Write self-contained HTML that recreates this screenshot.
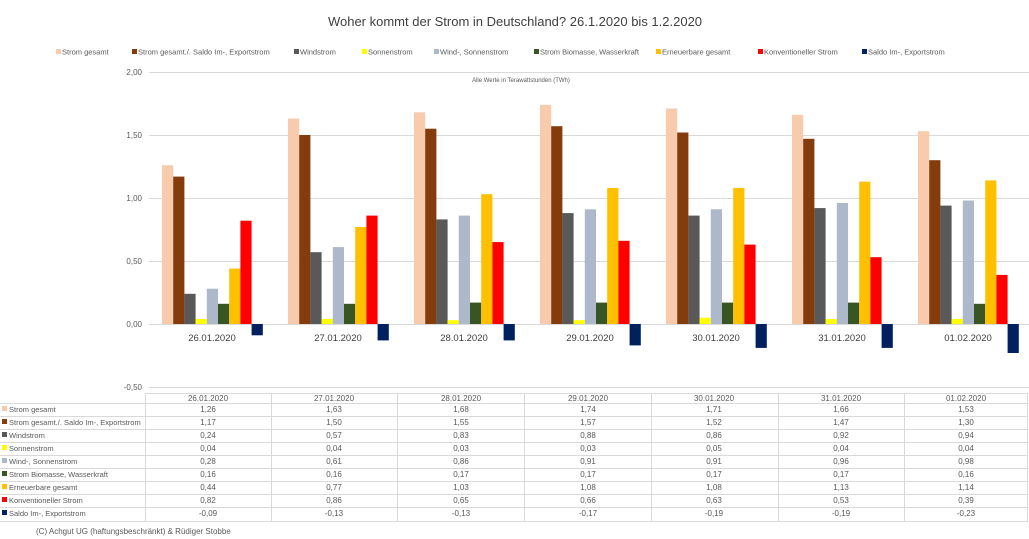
<!DOCTYPE html>
<html><head><meta charset="utf-8"><style>
body{margin:0;background:#fff;}
svg{display:block;font-family:"Liberation Sans",sans-serif;}
.a{fill:#f8cbad}.b{fill:#843c0c}.c{fill:#595959}.d{fill:#ffff00}.e{fill:#adb9ca}.f{fill:#375623}.g{fill:#ffc000}.h{fill:#ff0000}.i{fill:#002060}
.t{font-size:8px;fill:#595959}
.l{font-size:7.5px;fill:#595959}
</style></head><body>
<svg width="1029" height="539" viewBox="0 0 1029 539">
<text x="515" y="26" text-anchor="middle" font-size="13" fill="#404040">Woher kommt der Strom in Deutschland? 26.1.2020 bis 1.2.2020</text>
<g class="t" font-size="7.5">
<rect x="56" y="49" width="5" height="5" class="a"/><text x="62" y="54.5" font-size="7.5">Strom gesamt</text>
<rect x="132" y="49" width="5" height="5" class="b"/><text x="138" y="54.5" font-size="7.5">Strom gesamt./. Saldo Im-, Exportstrom</text>
<rect x="294" y="49" width="5" height="5" class="c"/><text x="300" y="54.5" font-size="7.5">Windstrom</text>
<rect x="362" y="49" width="5" height="5" class="d"/><text x="368" y="54.5" font-size="7.5">Sonnenstrom</text>
<rect x="434" y="49" width="5" height="5" class="e"/><text x="440" y="54.5" font-size="7.5">Wind-, Sonnenstrom</text>
<rect x="534" y="49" width="5" height="5" class="f"/><text x="540" y="54.5" font-size="7.5">Strom Biomasse, Wasserkraft</text>
<rect x="656" y="49" width="5" height="5" class="g"/><text x="662" y="54.5" font-size="7.5">Erneuerbare gesamt</text>
<rect x="758" y="49" width="5" height="5" class="h"/><text x="764" y="54.5" font-size="7.5">Konventioneller Strom</text>
<rect x="862" y="49" width="5" height="5" class="i"/><text x="868" y="54.5" font-size="7.5">Saldo Im-, Exportstrom</text>
</g>
<g stroke="#d9d9d9" stroke-width="1">
<line x1="149" y1="72.5" x2="1029" y2="72.5"/><line x1="149" y1="135.5" x2="1029" y2="135.5"/><line x1="149" y1="198.5" x2="1029" y2="198.5"/><line x1="149" y1="261.5" x2="1029" y2="261.5"/><line x1="149" y1="387.5" x2="1029" y2="387.5"/>
<line x1="149" y1="324.5" x2="1029" y2="324.5"/>
</g>
<g class="t" text-anchor="end">
<text x="142" y="75">2,00</text><text x="142" y="138">1,50</text><text x="142" y="201">1,00</text><text x="142" y="264">0,50</text><text x="142" y="327">0,00</text><text x="142" y="390">-0,50</text>
</g>
<text x="521" y="82" text-anchor="middle" font-size="6" fill="#595959">Alle Werte in Terawattstunden (TWh)</text>
<g transform="translate(162,324) scale(1,-1)">
<rect x="0" y="0" width="11.2" height="158.8" class="a"/><rect x="11.2" y="0" width="11.2" height="147.4" class="b"/><rect x="22.4" y="0" width="11.2" height="30.2" class="c"/><rect x="33.6" y="0" width="11.2" height="5" class="d"/><rect x="44.8" y="0" width="11.2" height="35.3" class="e"/><rect x="56" y="0" width="11.2" height="20.2" class="f"/><rect x="67.2" y="0" width="11.2" height="55.4" class="g"/><rect x="78.4" y="0" width="11.2" height="103.3" class="h"/><rect x="89.6" y="-11.3" width="11.2" height="11.3" class="i"/>
</g>
<g transform="translate(288,324) scale(1,-1)">
<rect x="0" y="0" width="11.2" height="205.4" class="a"/><rect x="11.2" y="0" width="11.2" height="189" class="b"/><rect x="22.4" y="0" width="11.2" height="71.8" class="c"/><rect x="33.6" y="0" width="11.2" height="5" class="d"/><rect x="44.8" y="0" width="11.2" height="76.9" class="e"/><rect x="56" y="0" width="11.2" height="20.2" class="f"/><rect x="67.2" y="0" width="11.2" height="97" class="g"/><rect x="78.4" y="0" width="11.2" height="108.4" class="h"/><rect x="89.6" y="-16.4" width="11.2" height="16.4" class="i"/>
</g>
<g transform="translate(414,324) scale(1,-1)">
<rect x="0" y="0" width="11.2" height="211.7" class="a"/><rect x="11.2" y="0" width="11.2" height="195.3" class="b"/><rect x="22.4" y="0" width="11.2" height="104.6" class="c"/><rect x="33.6" y="0" width="11.2" height="3.8" class="d"/><rect x="44.8" y="0" width="11.2" height="108.4" class="e"/><rect x="56" y="0" width="11.2" height="21.4" class="f"/><rect x="67.2" y="0" width="11.2" height="129.8" class="g"/><rect x="78.4" y="0" width="11.2" height="81.9" class="h"/><rect x="89.6" y="-16.4" width="11.2" height="16.4" class="i"/>
</g>
<g transform="translate(540,324) scale(1,-1)">
<rect x="0" y="0" width="11.2" height="219.2" class="a"/><rect x="11.2" y="0" width="11.2" height="197.8" class="b"/><rect x="22.4" y="0" width="11.2" height="110.9" class="c"/><rect x="33.6" y="0" width="11.2" height="3.8" class="d"/><rect x="44.8" y="0" width="11.2" height="114.7" class="e"/><rect x="56" y="0" width="11.2" height="21.4" class="f"/><rect x="67.2" y="0" width="11.2" height="136.1" class="g"/><rect x="78.4" y="0" width="11.2" height="83.2" class="h"/><rect x="89.6" y="-21.4" width="11.2" height="21.4" class="i"/>
</g>
<g transform="translate(666,324) scale(1,-1)">
<rect x="0" y="0" width="11.2" height="215.5" class="a"/><rect x="11.2" y="0" width="11.2" height="191.5" class="b"/><rect x="22.4" y="0" width="11.2" height="108.4" class="c"/><rect x="33.6" y="0" width="11.2" height="6.3" class="d"/><rect x="44.8" y="0" width="11.2" height="114.7" class="e"/><rect x="56" y="0" width="11.2" height="21.4" class="f"/><rect x="67.2" y="0" width="11.2" height="136.1" class="g"/><rect x="78.4" y="0" width="11.2" height="79.4" class="h"/><rect x="89.6" y="-23.9" width="11.2" height="23.9" class="i"/>
</g>
<g transform="translate(792,324) scale(1,-1)">
<rect x="0" y="0" width="11.2" height="209.2" class="a"/><rect x="11.2" y="0" width="11.2" height="185.2" class="b"/><rect x="22.4" y="0" width="11.2" height="115.9" class="c"/><rect x="33.6" y="0" width="11.2" height="5" class="d"/><rect x="44.8" y="0" width="11.2" height="121" class="e"/><rect x="56" y="0" width="11.2" height="21.4" class="f"/><rect x="67.2" y="0" width="11.2" height="142.4" class="g"/><rect x="78.4" y="0" width="11.2" height="66.8" class="h"/><rect x="89.6" y="-23.9" width="11.2" height="23.9" class="i"/>
</g>
<g transform="translate(918,324) scale(1,-1)">
<rect x="0" y="0" width="11.2" height="192.8" class="a"/><rect x="11.2" y="0" width="11.2" height="163.8" class="b"/><rect x="22.4" y="0" width="11.2" height="118.4" class="c"/><rect x="33.6" y="0" width="11.2" height="5" class="d"/><rect x="44.8" y="0" width="11.2" height="123.5" class="e"/><rect x="56" y="0" width="11.2" height="20.2" class="f"/><rect x="67.2" y="0" width="11.2" height="143.6" class="g"/><rect x="78.4" y="0" width="11.2" height="49.1" class="h"/><rect x="89.6" y="-29" width="11.2" height="29" class="i"/>
</g>
<g font-size="9.5" fill="#404040" text-anchor="middle">
<text x="212" y="341">26.01.2020</text><text x="338" y="341">27.01.2020</text><text x="464" y="341">28.01.2020</text><text x="590" y="341">29.01.2020</text><text x="716" y="341">30.01.2020</text><text x="842" y="341">31.01.2020</text><text x="968" y="341">01.02.2020</text>
</g>
<g stroke="#d9d9d9" stroke-width="1">
<line x1="145" y1="393.5" x2="1028" y2="393.5"/>
<line x1="0" y1="403.5" x2="1028" y2="403.5"/><line x1="0" y1="416.5" x2="1028" y2="416.5"/><line x1="0" y1="429.5" x2="1028" y2="429.5"/><line x1="0" y1="442.5" x2="1028" y2="442.5"/><line x1="0" y1="455.5" x2="1028" y2="455.5"/><line x1="0" y1="468.5" x2="1028" y2="468.5"/><line x1="0" y1="481.5" x2="1028" y2="481.5"/><line x1="0" y1="494.5" x2="1028" y2="494.5"/><line x1="0" y1="507.5" x2="1028" y2="507.5"/><line x1="0" y1="521.5" x2="1028" y2="521.5"/>
<line x1="145.5" y1="393" x2="145.5" y2="522"/><line x1="271.5" y1="393" x2="271.5" y2="522"/><line x1="397.5" y1="393" x2="397.5" y2="522"/><line x1="524.5" y1="393" x2="524.5" y2="522"/><line x1="651.5" y1="393" x2="651.5" y2="522"/><line x1="778.5" y1="393" x2="778.5" y2="522"/><line x1="904.5" y1="393" x2="904.5" y2="522"/><line x1="1027.5" y1="393" x2="1027.5" y2="522"/>
</g>
<g class="l">
<rect x="2" y="406" width="5" height="5" class="a"/><text x="9" y="412">Strom gesamt</text>
<rect x="2" y="419" width="5" height="5" class="b"/><text x="9" y="425">Strom gesamt./. Saldo Im-, Exportstrom</text>
<rect x="2" y="432" width="5" height="5" class="c"/><text x="9" y="438">Windstrom</text>
<rect x="2" y="445" width="5" height="5" class="d"/><text x="9" y="451">Sonnenstrom</text>
<rect x="2" y="458" width="5" height="5" class="e"/><text x="9" y="464">Wind-, Sonnenstrom</text>
<rect x="2" y="471" width="5" height="5" class="f"/><text x="9" y="477">Strom Biomasse, Wasserkraft</text>
<rect x="2" y="484" width="5" height="5" class="g"/><text x="9" y="490">Erneuerbare gesamt</text>
<rect x="2" y="497" width="5" height="5" class="h"/><text x="9" y="503">Konventioneller Strom</text>
<rect x="2" y="510" width="5" height="5" class="i"/><text x="9" y="516">Saldo Im-, Exportstrom</text>
</g>
<g class="t" text-anchor="middle">
<g transform="translate(208,0)"><text y="401">26.01.2020</text><text y="412">1,26</text><text y="425">1,17</text><text y="438">0,24</text><text y="451">0,04</text><text y="464">0,28</text><text y="477">0,16</text><text y="490">0,44</text><text y="503">0,82</text><text y="516">-0,09</text></g>
<g transform="translate(334,0)"><text y="401">27.01.2020</text><text y="412">1,63</text><text y="425">1,50</text><text y="438">0,57</text><text y="451">0,04</text><text y="464">0,61</text><text y="477">0,16</text><text y="490">0,77</text><text y="503">0,86</text><text y="516">-0,13</text></g>
<g transform="translate(461,0)"><text y="401">28.01.2020</text><text y="412">1,68</text><text y="425">1,55</text><text y="438">0,83</text><text y="451">0,03</text><text y="464">0,86</text><text y="477">0,17</text><text y="490">1,03</text><text y="503">0,65</text><text y="516">-0,13</text></g>
<g transform="translate(588,0)"><text y="401">29.01.2020</text><text y="412">1,74</text><text y="425">1,57</text><text y="438">0,88</text><text y="451">0,03</text><text y="464">0,91</text><text y="477">0,17</text><text y="490">1,08</text><text y="503">0,66</text><text y="516">-0,17</text></g>
<g transform="translate(714,0)"><text y="401">30.01.2020</text><text y="412">1,71</text><text y="425">1,52</text><text y="438">0,86</text><text y="451">0,05</text><text y="464">0,91</text><text y="477">0,17</text><text y="490">1,08</text><text y="503">0,63</text><text y="516">-0,19</text></g>
<g transform="translate(841,0)"><text y="401">31.01.2020</text><text y="412">1,66</text><text y="425">1,47</text><text y="438">0,92</text><text y="451">0,04</text><text y="464">0,96</text><text y="477">0,17</text><text y="490">1,13</text><text y="503">0,53</text><text y="516">-0,19</text></g>
<g transform="translate(966,0)"><text y="401">01.02.2020</text><text y="412">1,53</text><text y="425">1,30</text><text y="438">0,94</text><text y="451">0,04</text><text y="464">0,98</text><text y="477">0,16</text><text y="490">1,14</text><text y="503">0,39</text><text y="516">-0,23</text></g>
</g>
<text x="36" y="534" font-size="8" fill="#595959">(C) Achgut UG (haftungsbeschränkt) &amp; Rüdiger Stobbe</text>
</svg>
</body></html>
